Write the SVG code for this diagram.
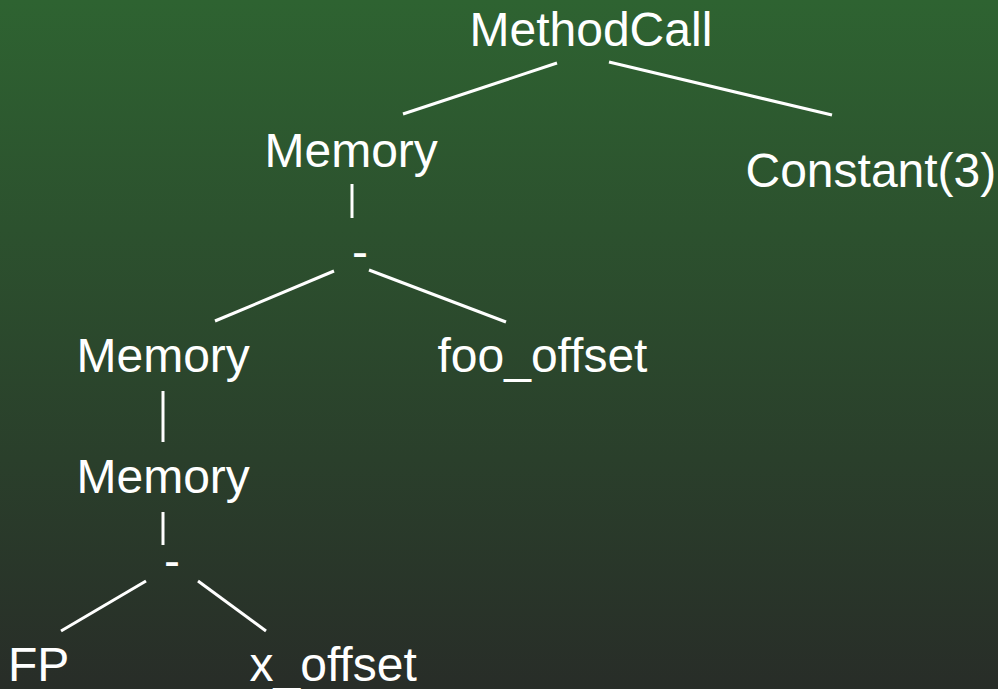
<svg xmlns="http://www.w3.org/2000/svg" width="998" height="689" viewBox="0 0 998 689">
<defs>
<linearGradient id="bg" x1="0" y1="0" x2="0" y2="1">
<stop offset="0" stop-color="#2e6331"/>
<stop offset="1" stop-color="#282d28"/>
</linearGradient>
<style>
text { font-family: "Liberation Sans", Arial, sans-serif; font-size: 48px; fill: #ffffff; }
.edge { stroke: #ffffff; stroke-width: 3; fill: none; }
</style>
</defs>
<rect x="0" y="0" width="998" height="689" fill="url(#bg)"/>
<g id="connectors">
<line class="edge" x1="557" y1="63" x2="403" y2="114"/>
<line class="edge" x1="609" y1="62" x2="832" y2="115"/>
<line class="edge" x1="352" y1="184" x2="352" y2="218"/>
<line class="edge" x1="334" y1="271" x2="215" y2="321"/>
<line class="edge" x1="369" y1="270" x2="506" y2="322"/>
<line class="edge" x1="163" y1="391" x2="163" y2="442"/>
<line class="edge" x1="163" y1="512" x2="163" y2="545"/>
<line class="edge" x1="146" y1="581" x2="61" y2="631"/>
<line class="edge" x1="198" y1="581" x2="266" y2="631"/>
</g>
<g id="methodcall"><text x="469.5" y="46">MethodCall</text></g>
<g id="memory1"><text x="264.5" y="167">Memory</text></g>
<g id="constant3"><text x="745.5" y="187">Constant(3)</text></g>
<g id="minus1"><text x="352" y="268">-</text></g>
<g id="memory2"><text x="76.5" y="372">Memory</text></g>
<g id="foo_offset"><text x="437.5" y="372">foo_offset</text></g>
<g id="memory3"><text x="76.5" y="493">Memory</text></g>
<g id="minus2"><text x="164" y="577">-</text></g>
<g id="fp"><text x="8" y="681">FP</text></g>
<g id="x_offset"><text x="249.5" y="681">x_offset</text></g>
</svg>
